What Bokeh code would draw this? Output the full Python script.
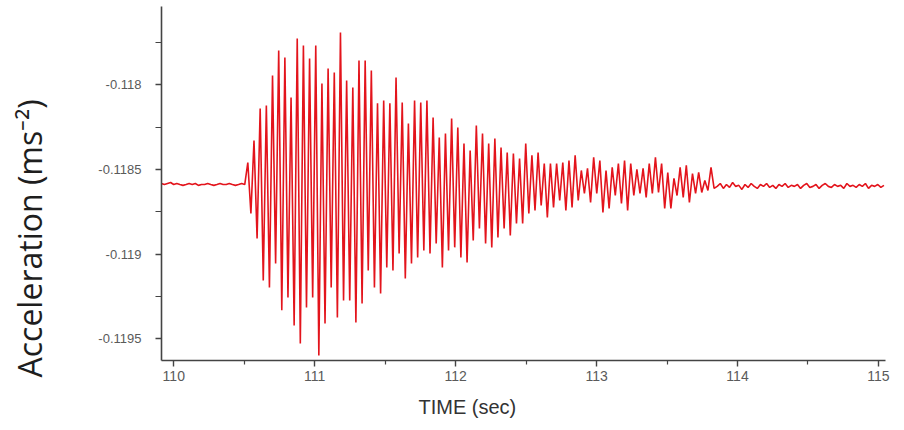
import numpy as np
from bokeh.plotting import figure
from bokeh.models import Range1d, FixedTicker, Title
from bokeh.embed import file_html
from bokeh.resources import INLINE

# ---- data ----
t_start = 109.912      # s, first sample
dt = 0.02191           # s, sampling interval

pre_noise = [-0.118583, -0.118589, -0.118583, -0.118577, -0.118589, -0.118583, -0.118589, -0.118594, -0.118589, -0.118583,
             -0.118589, -0.118583, -0.118594, -0.118589, -0.118589, -0.118583, -0.118589, -0.118594, -0.118589, -0.118583,
             -0.118589, -0.118589, -0.118583, -0.118589, -0.118594, -0.118589, -0.118583, -0.118589]

peaks = [-0.118459, -0.118329, -0.118140, -0.118122, -0.117945, -0.117798, -0.117839, -0.118075, -0.117727, -0.117768,
         -0.117845, -0.117768, -0.117992, -0.117904, -0.117927, -0.117691, -0.117975, -0.118016, -0.117857, -0.117857,
         -0.117916, -0.118110, -0.118093, -0.118110, -0.117957, -0.118105, -0.118229, -0.118093, -0.118105, -0.118093,
         -0.118193, -0.118311, -0.118288, -0.118199, -0.118252, -0.118347, -0.118388, -0.118240, -0.118288, -0.118347,
         -0.118317, -0.118370, -0.118400, -0.118406, -0.118435, -0.118347, -0.118417, -0.118400, -0.118465, -0.118465,
         -0.118465, -0.118459, -0.118447, -0.118417, -0.118506, -0.118494, -0.118429, -0.118447, -0.118506, -0.118488,
         -0.118465, -0.118447, -0.118465, -0.118500, -0.118494, -0.118465, -0.118429, -0.118465, -0.118518, -0.118553,
         -0.118488, -0.118476, -0.118524, -0.118518, -0.118565, -0.118488]

troughs = [-0.118760, -0.118907, -0.119155, -0.119197, -0.119055, -0.119332, -0.119256, -0.119421, -0.119527, -0.119315,
           -0.119256, -0.119598, -0.119409, -0.119197, -0.119374, -0.119273, -0.119273, -0.119403, -0.119291, -0.119096,
           -0.119197, -0.119232, -0.119079, -0.119096, -0.118996, -0.119144, -0.119055, -0.119020, -0.118978, -0.118996,
           -0.118937, -0.119079, -0.118978, -0.118960, -0.119020, -0.119049, -0.118919, -0.118848, -0.118937, -0.118960,
           -0.118901, -0.118848, -0.118890, -0.118819, -0.118819, -0.118760, -0.118742, -0.118713, -0.118783, -0.118724,
           -0.118683, -0.118742, -0.118724, -0.118683, -0.118642, -0.118695, -0.118642, -0.118754, -0.118730, -0.118654,
           -0.118701, -0.118742, -0.118654, -0.118642, -0.118665, -0.118642, -0.118636, -0.118730, -0.118730, -0.118654,
           -0.118665, -0.118695, -0.118642, -0.118636, -0.118624, -0.118612]

post_noise = [-0.118600, -0.118583, -0.118612, -0.118589, -0.118606, -0.118577, -0.118600, -0.118594, -0.118618, -0.118589,
              -0.118606, -0.118583, -0.118600, -0.118612, -0.118589, -0.118600, -0.118583, -0.118606, -0.118594, -0.118612,
              -0.118589, -0.118600, -0.118583, -0.118606, -0.118594, -0.118600, -0.118589, -0.118612, -0.118594, -0.118583,
              -0.118606, -0.118600, -0.118589, -0.118612, -0.118594, -0.118583, -0.118600, -0.118606, -0.118589, -0.118600,
              -0.118594, -0.118612, -0.118583, -0.118600, -0.118594, -0.118606, -0.118589, -0.118600, -0.118583, -0.118612,
              -0.118594, -0.118600, -0.118589, -0.118606, -0.118594]

x_ticks = [110, 111, 112, 113, 114, 115]
x_minor_ticks = [110.5, 111.5, 112.5, 113.5, 114.5]
y_ticks = [-0.1195, -0.119, -0.1185, -0.118]
y_tick_labels = ["-0.1195", "-0.119", "-0.1185", "-0.118"]
y_minor_ticks = [-0.11925, -0.11875, -0.11825, -0.11775]

x_title = "TIME (sec)"
y_title = "Acceleration (ms\u207b\u00b2)"

# ---- assemble the sampled series ----
osc = []
for pk, tr in zip(peaks, troughs):
    osc += [pk, tr]
accel = pre_noise + osc + post_noise
time = t_start + dt * np.arange(len(accel))

# ---- figure ----
W, H = 896, 428
p = figure(width=W, height=H, output_backend="svg", toolbar_location=None,
           x_range=Range1d(109.913, 115.05), y_range=Range1d(-0.119628, -0.117538),
           min_border_left=161, min_border_right=W - 885, min_border_top=6, min_border_bottom=H - 360)
p.outline_line_color = None
p.grid.visible = False
p.background_fill_color = "white"
p.border_fill_color = "white"

p.line(time, accel, line_color="#e3141c", line_width=1.6)

axis_col = "#444444"
for ax in (p.xaxis[0], p.yaxis[0]):
    ax.axis_line_color = axis_col
    ax.axis_line_width = 1.6
    ax.major_tick_line_color = axis_col
    ax.minor_tick_line_color = axis_col
    ax.major_tick_line_width = 1.4
    ax.minor_tick_line_width = 1.2
    ax.major_tick_in = 0
    ax.minor_tick_in = 0
    ax.major_label_text_font = "Liberation Sans"
    ax.major_label_text_color = "#5a5a5a"

xa = p.xaxis[0]
xa.ticker = FixedTicker(ticks=x_ticks, minor_ticks=x_minor_ticks)
xa.major_tick_out = 6
xa.minor_tick_out = 4
xa.major_label_text_font_size = "14px"
xa.major_label_standoff = 4

ya = p.yaxis[0]
ya.ticker = FixedTicker(ticks=y_ticks, minor_ticks=y_minor_ticks)
ya.major_label_overrides = {v: s for v, s in zip(y_ticks, y_tick_labels)}
ya.major_tick_out = 6
ya.minor_tick_out = 6
ya.major_label_text_font_size = "13px"
ya.major_label_standoff = 14
# blank axis label used only as spacing between the tick labels and the title
ya.axis_label = " "
ya.axis_label_text_font_size = "1px"
ya.axis_label_standoff = 36

p.add_layout(Title(text=x_title, align="left", offset=257, standoff=20,
                   text_font="Liberation Sans", text_font_size="20px", text_font_style="normal",
                   text_color="#333333"), "below")
p.add_layout(Title(text=y_title, align="left", offset=-17, standoff=9,
                   text_font="Open Sans", text_font_size="32px", text_font_style="normal",
                   text_color="#1e1e1e"), "left")

open("out.html", "w").write(file_html(p, INLINE))
